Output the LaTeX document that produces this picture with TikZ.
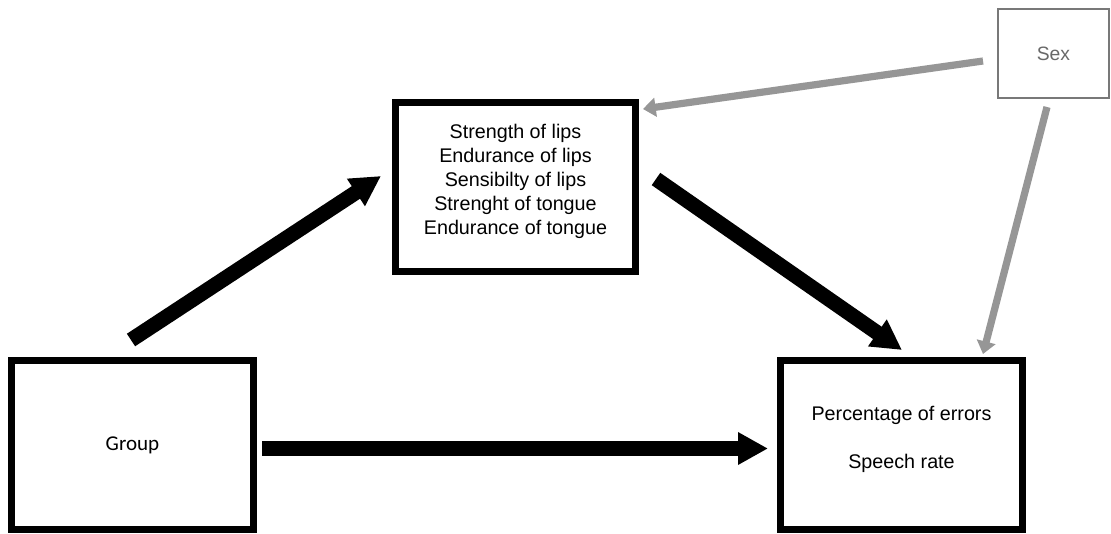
\documentclass[tikz,border=0pt]{standalone}
\usepackage{fontspec}
\setmainfont{Liberation Sans}
\newfontfamily\grpfont{Carlito}
\usetikzlibrary{arrows.meta,calc}
\definecolor{arrgray}{RGB}{150,150,150}
\definecolor{boxgray}{RGB}{120,120,120}
\definecolor{txtgray}{RGB}{105,105,105}
\begin{document}
\begin{tikzpicture}[x=0.75pt,y=-0.75pt,
  box/.style={draw=black, line width=5.25pt, minimum width=242*0.75pt, minimum height=169*0.75pt, inner sep=0pt},
  medbox/.style={box, minimum width=240*0.75pt},
  sexbox/.style={draw=boxgray, line width=1.8pt, minimum width=111*0.75pt, minimum height=89*0.75pt, inner sep=0pt,
    text=txtgray, font=\fontsize{14.5}{17}\selectfont},
  lbl/.style={font=\fontsize{14.8}{18}\selectfont, align=center, inner sep=0pt},
  bigarrow/.style={draw=black, line width=11.25pt, -{Triangle[length=22.5pt,width=23pt]}},
  grayarrow/.style={draw=arrgray, line width=5.4pt, -{Triangle[length=9.5pt,width=14pt]}}]
\useasboundingbox (0,0) rectangle (1111,533);
\fill[white] (0,0) rectangle (1111,533);
% boxes
\node[box, font=\grpfont\fontsize{15.8}{18}\selectfont] (group) at (132.5,445) {Group};
\node[box] (out) at (901.5,445) {};
\node[lbl] (outtxt) at ($(out.center)+(0,-6)$) {Percentage of errors\\[18pt]Speech rate};
\node[medbox] (med) at (515.5,187) {};
\node[lbl] (medtxt) at ($(med.center)+(0,-6)$) {Strength of lips\\Endurance of lips\\Sensibilty of lips\\Strenght of tongue\\Endurance of tongue};
\node[sexbox] (sex) at (1053.5,53.5) {Sex};
% connectors
\draw[bigarrow] ($(group.center)+(-1.5,-105)$) -- ($(med.center)+(-134.5,-11)$);
\draw[bigarrow] ($(med.center)+(140.5,-8)$) -- ($(out.center)+(0.5,-95)$);
\draw[bigarrow] ($(group.center)+(129.5,3.5)$) -- ($(out.center)+(-133.5,3.5)$);
\draw[grayarrow] ($(sex.center)+(-70.5,7.5)$) -- ($(med.center)+(127.5,-78)$);
\draw[grayarrow] ($(sex.center)+(-6.5,53.5)$) -- ($(out.center)+(81.5,-91)$);
\end{tikzpicture}
\end{document}
